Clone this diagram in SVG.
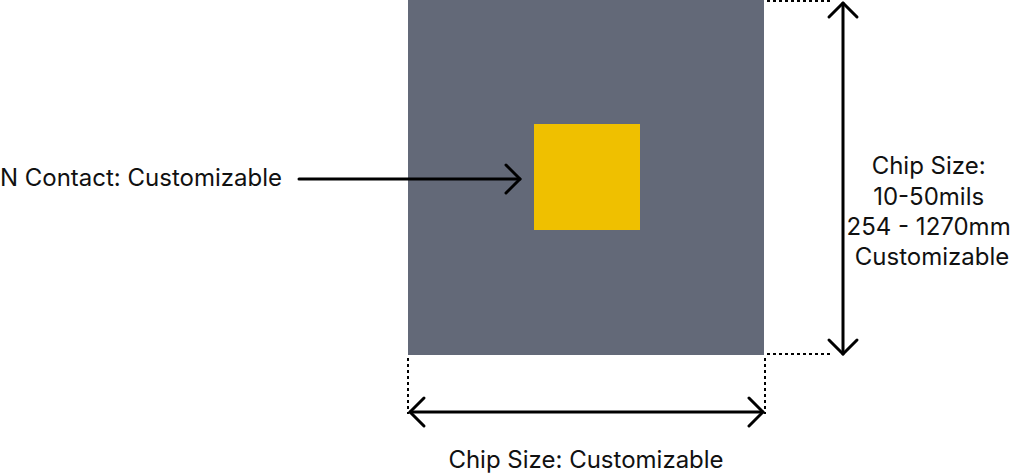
<svg xmlns="http://www.w3.org/2000/svg" width="1022" height="474" viewBox="0 0 1022 474">
<defs>
<style>
.t{font-family:Inter,"Noto Sans","Liberation Sans",sans-serif;font-size:24px;fill:#111;}
.arr{stroke:#000;stroke-width:3;fill:none;stroke-linecap:round;stroke-linejoin:round;}
.dot{stroke:#000;stroke-width:2;stroke-dasharray:3 3;fill:none;}
</style>
</defs>
<rect width="1022" height="474" fill="#fff"/>
<g id="chip"><rect x="408" y="0" width="356" height="355" fill="#636978"/></g>
<g id="contact"><rect x="534" y="124" width="106" height="106" fill="#EFC000"/></g>
<g id="connectors">
<line class="dot" x1="767" y1="1" x2="832" y2="1"/>
<line class="dot" x1="767" y1="354" x2="832" y2="354"/>
<line class="dot" x1="408" y1="358" x2="408" y2="414"/>
<line class="dot" x1="765" y1="358" x2="765" y2="414"/>
<line class="arr" x1="299" y1="179" x2="520" y2="179"/>
<polyline class="arr" points="506,165 520,179 506,193"/>
<line class="arr" x1="843" y1="3" x2="843" y2="354"/>
<polyline class="arr" points="829,17 843,3 857,17"/>
<polyline class="arr" points="829,340 843,354 857,340"/>
<line class="arr" x1="410" y1="412" x2="763" y2="412"/>
<polyline class="arr" points="424,398 410,412 424,426"/>
<polyline class="arr" points="749,398 763,412 749,426"/>
</g>
<g id="label-contact"><text class="t" x="282" y="186" text-anchor="end">N Contact: Customizable</text></g>
<g id="label-height"><text class="t" text-anchor="middle">
<tspan x="932" y="174">Chip Size:</tspan>
<tspan x="932" y="205">10-50mils</tspan>
<tspan x="932" y="235">254 - 1270mm</tspan>
<tspan x="932" y="265">Customizable</tspan>
</text></g>
<g id="label-width"><text class="t" x="586" y="468" text-anchor="middle">Chip Size: Customizable</text></g>
</svg>
